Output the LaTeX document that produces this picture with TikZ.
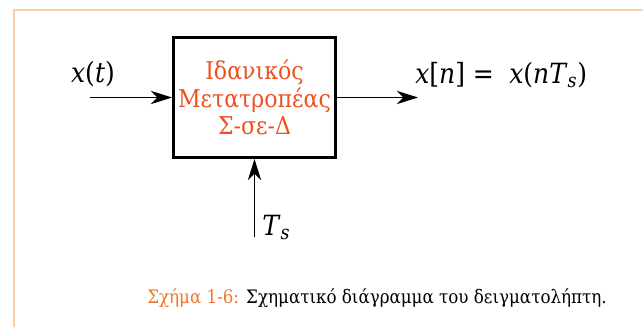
\documentclass[tikz,border=0pt]{standalone}
\usepackage{fontspec}
\setmainfont{DejaVu Serif Condensed}
\usetikzlibrary{arrows.meta}
\definecolor{CFRM}{RGB}{250,208,172}
\definecolor{CTXT}{RGB}{238,80,30}
\definecolor{CCAP}{RGB}{240,118,48}
\newcommand{\vi}[1]{\textit{#1}}

\begin{document}
\begin{tikzpicture}[
    sig/.style={line width=0.8pt,-{Stealth[length=16pt,width=10pt,inset=5pt]}},
    conv/.style={draw,line width=2.2pt,minimum width=4.2930cm,minimum height=3.1800cm,
      align=center,text=CTXT,font=\fontsize{18.5}{21}\selectfont},
    lbl/.style={anchor=base west,inner sep=0pt,font=\fontsize{21}{24}\selectfont}]
  \useasboundingbox (0.0000cm,0.0000cm) rectangle (17.0395cm,8.6655cm);
  \draw[CFRM,line width=1.5pt] (17.0395cm,8.4005cm) -- (0.3710cm,8.4005cm) -- (0.3710cm,0.0000cm);
  \node[conv] (adc) at (6.7443cm,6.0818cm) {Ιδανικός\\Μετατροπέας\\Σ-σε-Δ};
  \coordinate (in) at (2.3850cm,6.0818cm);
  \coordinate (out) at (11.0770cm,6.0818cm);
  \coordinate (clk) at (6.7443cm,2.3850cm);
  \draw[sig] (in) -- (adc.west);
  \draw[sig] (adc.east) -- (out);
  \draw[sig] (clk) -- (adc.south);
  \node[lbl,anchor=base] (xt) at (2.4645cm,6.4925cm) {\vi{x}(\vi{t})};
  \node[lbl] (xn) at (10.9975cm,6.4660cm) {\vi{x}[\vi{n}]\;=\;\;\vi{x}(\vi{nT}\textsubscript{\vi{s}})};
  \node[lbl] (ts) at (6.9430cm,2.4380cm) {\vi{T}\textsubscript{\vi{s}}};
  \node[anchor=base west,inner sep=0pt,font=\fontsize{14}{18}\selectfont] (cap) at (3.8955cm,0.6360cm)
    {\textcolor{CCAP}{Σχήμα 1-6:} Σχηματικό διάγραμμα του δειγματολήπτη.};
\end{tikzpicture}
\end{document}
